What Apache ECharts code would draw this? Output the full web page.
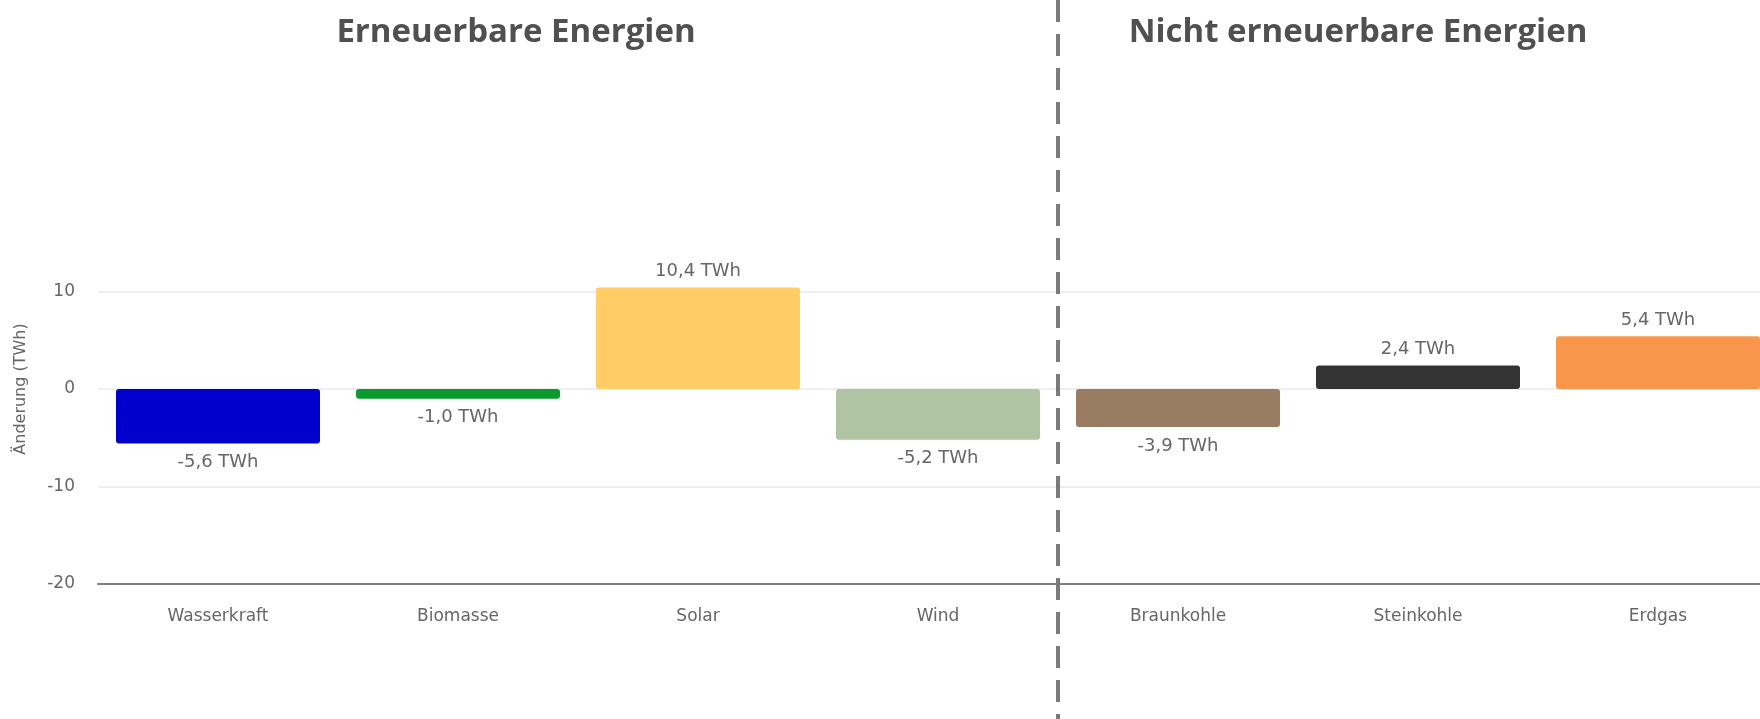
<!DOCTYPE html>
<html>
<head>
<meta charset="utf-8">
<script src="https://cdn.jsdelivr.net/npm/echarts@6/dist/echarts.min.js"></script>
<style>
  html, body { margin: 0; padding: 0; background: #fff; }
  #chart { width: 1760px; height: 719px; }
</style>
</head>
<body>
<div id="chart"></div>
<script>
// Daten
const categories = ['Wasserkraft', 'Biomasse', 'Solar', 'Wind', 'Braunkohle', 'Steinkohle', 'Erdgas'];
const changes = [-5.6, -1.0, 10.4, -5.2, -3.9, 2.4, 5.4];
const barColors = ['#0000cc', '#0a9a2e', '#ffcc66', '#afc4a3', '#987b61', '#333333', '#fa964b'];
const groupTitles = ['Erneuerbare Energien', 'Nicht erneuerbare Energien'];
const yTicks = [-20, -10, 0, 10, 20];

const chart = echarts.init(document.getElementById('chart'));

const fmt = v => v.toFixed(1).replace('.', ',') + ' TWh';

const option = {
  animation: false,
  backgroundColor: '#fff',
  // Plotbereich läuft rechts etwas über den Rand hinaus (Erdgas abgeschnitten)
  grid: { left: 98, width: 1680, top: 194, bottom: 135, outerBoundsMode: 'none', containLabel: false },
  xAxis: {
    type: 'category',
    data: categories,
    axisTick: { show: false },
    axisLine: { onZero: false, lineStyle: { color: '#7f7f7f', width: 2 } },
    axisLabel: { color: '#666', fontFamily: 'DejaVu Sans', fontSize: 17, margin: 24 }
  },
  yAxis: {
    type: 'value',
    min: yTicks[0],
    max: yTicks[yTicks.length - 1],
    interval: 10,
    name: 'Änderung (TWh)',
    nameLocation: 'middle',
    nameGap: 69,
    nameTextStyle: { color: '#666', fontFamily: 'DejaVu Sans', fontSize: 16 },
    axisLine: { show: false },
    axisTick: { show: false },
    axisLabel: { color: '#666', fontFamily: 'DejaVu Sans', fontSize: 17, margin: 23, showMaxLabel: false },
    splitLine: { showMaxLine: false, showMinLine: false, lineStyle: { color: '#e9e9e9', width: 1.5 } }
  },
  series: [{
    type: 'bar',
    barCategoryGap: '15%',
    data: changes.map((v, i) => ({
      value: v,
      itemStyle: { color: barColors[i], borderRadius: 3 },
      label: { position: v < 0 ? 'bottom' : 'top', distance: v < 0 ? 10 : 7 }
    })),
    label: {
      show: true,
      color: '#666',
      fontFamily: 'DejaVu Sans',
      fontSize: 18,
      formatter: p => fmt(p.value)
    }
  }]
};

chart.setOption(option);

// Trennlinie zwischen den Gruppen und Überschriften
const xWind = chart.convertToPixel({ gridIndex: 0 }, ['Wind', 0])[0];
const xBraun = chart.convertToPixel({ gridIndex: 0 }, ['Braunkohle', 0])[0];
const xSplit = (xWind + xBraun) / 2;

chart.setOption({
  graphic: [
    {
      type: 'line',
      shape: { x1: xSplit, y1: 0, x2: xSplit, y2: 719 },
      style: { stroke: '#7a7a7a', lineWidth: 4, lineDash: [22, 12] },
      z: 10
    },
    {
      type: 'text', x: 516, y: 33,
      style: {
        text: groupTitles[0], fill: '#505050', font: 'bold 33px "Open Sans"',
        textAlign: 'center', textVerticalAlign: 'middle'
      }
    },
    {
      type: 'text', x: 1358, y: 33,
      style: {
        text: groupTitles[1], fill: '#505050', font: 'bold 33px "Open Sans"',
        textAlign: 'center', textVerticalAlign: 'middle'
      }
    }
  ]
});
</script>
</body>
</html>
